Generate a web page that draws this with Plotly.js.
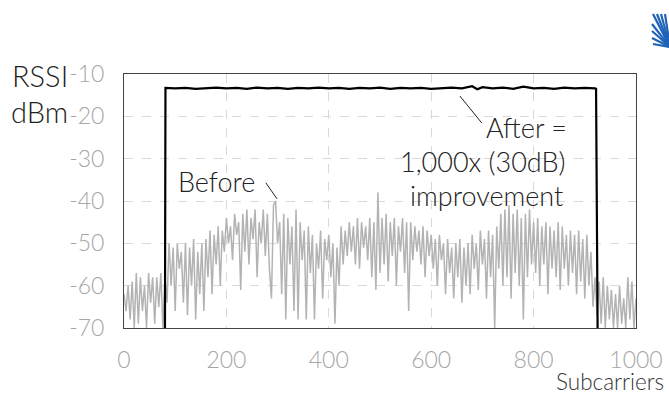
<!DOCTYPE html>
<html>
<head>
<meta charset="utf-8">
<script src="https://cdn.plot.ly/plotly-3.0.1.min.js"></script>
<style>html,body{margin:0;padding:0;background:#fff;}#chart{width:669px;height:396px;}</style>
</head>
<body>
<div id="chart"></div>
<script>
// "Before" RSSI, one value every 4 subcarriers (0..1000)
const beforeStart = 0;
const beforeStep = 4;
const beforeValues = [
  -62,-66,-60,-68,-59,-70,-57,-69,-58,-66,
  -60,-70,-57,-64,-58,-69,-58,-65,-57,-70,
  -58,-64,-50,-60,-51,-66,-50,-56,-52,-64,
  -50,-67,-51,-60,-49,-68,-52,-62,-50,-66,
  -49,-58,-47,-62,-48,-55,-46,-60,-47,-52,
  -44,-50,-46,-54,-43,-48,-45,-61,-43,-52,
  -42,-55,-44,-49,-42,-58,-45,-50,-42,-53,
  -43,-56,-63,-41,-40,-50,-45,-62,-43,-68,
  -44,-55,-46,-66,-42,-68,-45,-54,-47,-68,
  -46,-57,-48,-68,-50,-56,-47,-63,-49,-54,
  -48,-58,-50,-69,-51,-60,-46,-55,-47,-53,
  -45,-52,-46,-55,-44,-56,-45,-51,-46,-54,
  -44,-58,-45,-61,-38,-57,-44,-55,-43,-59,
  -45,-53,-44,-60,-46,-52,-44,-57,-45,-66,
  -45,-54,-46,-52,-47,-55,-46,-58,-47,-53,
  -48,-56,-49,-60,-48,-54,-50,-62,-49,-57,
  -51,-63,-50,-58,-49,-64,-51,-60,-50,-62,
  -48,-56,-50,-61,-47,-55,-49,-63,-47,-58,
  -48,-70,-46,-56,-43,-60,-42,-58,-41,-63,
  -43,-57,-42,-60,-44,-68,-43,-58,-42,-55,
  -45,-57,-44,-60,-46,-55,-45,-62,-46,-56,
  -47,-58,-45,-61,-46,-56,-48,-60,-47,-57,
  -48,-62,-47,-59,-49,-63,-48,-60,-52,-65,
  -58,-67,-59,-69,-58,-70,-60,-68,-61,-70,
  -62,-70,-60,-69,-63,-70,-58,-68,-59,-70,
  -63
];
const beforeX = beforeValues.map((v, i) => beforeStart + i * beforeStep);

// "After" RSSI
const afterX = [80, 81, 100, 120, 140, 160, 180, 200, 220, 240, 260, 280, 300, 320, 340, 360, 380, 400,
  420, 440, 460, 480, 500, 520, 540, 560, 580, 600, 620, 640, 660, 680, 690, 700, 720, 740, 760,
  780, 800, 820, 840, 860, 880, 900, 920, 922, 925];
const afterY = [-70, -13.3, -13.4, -13.3, -13.5, -13.3, -13.2, -13.4, -13.3, -13.5, -13.2, -13.4,
  -13.3, -13.5, -13.3, -13.4, -13.2, -13.4, -13.3, -13.5, -13.3, -13.4, -13.2, -13.5, -13.3, -13.4,
  -13.3, -13.5, -13.3, -13.2, -13.4, -12.9, -13.6, -13.1, -13.4, -13.2, -13.5, -13.0, -13.4, -13.3,
  -13.5, -13.2, -13.4, -13.3, -13.4, -13.5, -70];

const xTicks = [0, 200, 400, 600, 800, 1000];
const yTicks = [-70, -60, -50, -40, -30, -20, -10];

const FONT = '"Lato Light", Lato, "Open Sans", sans-serif';

// logo fan rays (paper coords)
const px = p => (p - 124) / 512;
const py = p => (328 - p) / 254;
const rayEnds = [[653, 14], [657, 14], [661, 14], [665, 14], [652, 24], [652, 31], [652, 38], [653, 44]];
const logoShapes = rayEnds.map(e => ({
  type: 'line', xref: 'paper', yref: 'paper',
  x0: px(670), y0: py(47), x1: px(e[0]), y1: py(e[1]),
  line: {color: '#1f63b8', width: 2.2}
}));

const data = [
  {x: beforeX, y: beforeValues, type: 'scatter', mode: 'lines',
   line: {color: '#b3b3b3', width: 1.5}, hoverinfo: 'skip'},
  {x: afterX, y: afterY, type: 'scatter', mode: 'lines',
   line: {color: '#000000', width: 2.2}, hoverinfo: 'skip'}
];

const layout = {
  width: 669, height: 396,
  margin: {l: 124, r: 33, t: 74, b: 68},
  paper_bgcolor: '#ffffff', plot_bgcolor: '#ffffff',
  showlegend: false,
  font: {family: FONT, weight: 300},
  xaxis: {
    range: [0, 1000], tickvals: xTicks, ticktext: xTicks.map(String),
    showgrid: true, gridcolor: '#d9d9d9', griddash: 'dash', gridwidth: 1,
    zeroline: false, showline: true, mirror: true, linecolor: '#444444', linewidth: 1,
    ticks: '', ticklabelstandoff: 11,
    tickfont: {family: FONT, size: 23, color: '#a6a6a6', weight: 300}
  },
  yaxis: {
    range: [-70, -10], tickvals: yTicks, ticktext: yTicks.map(String),
    showgrid: true, gridcolor: '#d9d9d9', griddash: 'dash', gridwidth: 1,
    zeroline: false, showline: true, mirror: true, linecolor: '#444444', linewidth: 1,
    ticks: '', ticklabelstandoff: 14,
    tickfont: {family: FONT, size: 23, color: '#a6a6a6', weight: 300}
  },
  shapes: [
    {type: 'line', xref: 'x', yref: 'y', x0: 277, y0: -35.7, x1: 299, y1: -39.5,
     line: {color: '#222222', width: 1}},
    {type: 'line', xref: 'x', yref: 'y', x0: 656, y0: -15.2, x1: 699, y1: -21.6,
     line: {color: '#222222', width: 1}}
  ].concat(logoShapes),
  annotations: [
    {text: 'RSSI', xref: 'paper', yref: 'paper', x: px(70), y: py(75), xanchor: 'right', yanchor: 'middle',
     showarrow: false, font: {family: FONT, size: 29, color: '#222222', weight: 300}},
    {text: 'dBm', xref: 'paper', yref: 'paper', x: px(70), y: py(111), xanchor: 'right', yanchor: 'middle',
     showarrow: false, font: {family: FONT, size: 29, color: '#222222', weight: 300}},
    {text: 'Subcarriers', xref: 'paper', yref: 'paper', x: px(665), y: py(381), xanchor: 'right', yanchor: 'middle',
     showarrow: false, borderpad: 0, font: {family: FONT, size: 22.5, color: '#333333', weight: 300}},
    {text: 'Before', xref: 'paper', yref: 'paper', x: px(176), y: py(181), xanchor: 'left', yanchor: 'middle',
     showarrow: false, font: {family: FONT, size: 27, color: '#222222', weight: 300}},
    {text: 'After =', xref: 'paper', yref: 'paper', x: px(569), y: py(128), xanchor: 'right', yanchor: 'middle',
     showarrow: false, font: {family: FONT, size: 27, color: '#222222', weight: 300}},
    {text: '1,000x (30dB)', xref: 'paper', yref: 'paper', x: px(568), y: py(161), xanchor: 'right', yanchor: 'middle',
     showarrow: false, font: {family: FONT, size: 27, color: '#222222', weight: 300}},
    {text: 'improvement', xref: 'paper', yref: 'paper', x: px(565), y: py(195), xanchor: 'right', yanchor: 'middle',
     showarrow: false, font: {family: FONT, size: 27, color: '#222222', weight: 300}}
  ]
};

Plotly.newPlot('chart', data, layout, {displayModeBar: false, staticPlot: true});
</script>
</body>
</html>
